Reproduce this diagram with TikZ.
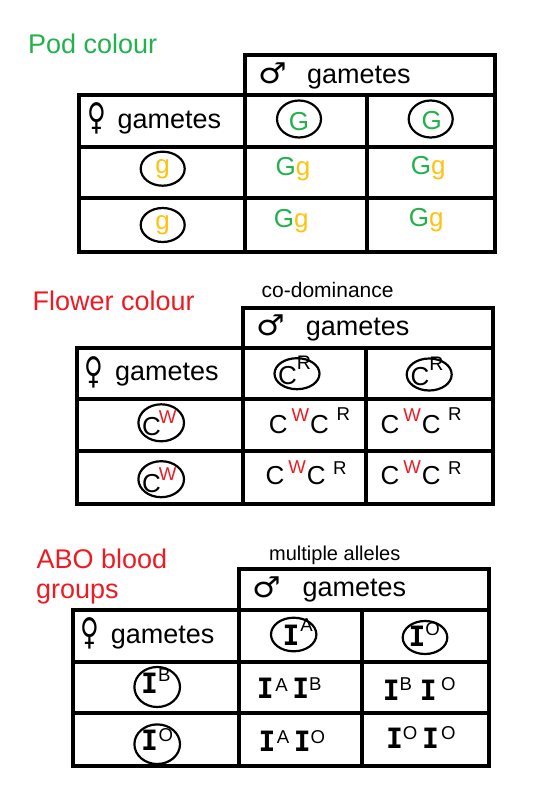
\documentclass[tikz,border=0pt]{standalone}
\usepackage{fontspec}
\usetikzlibrary{shapes.geometric}
\setmainfont{Liberation Sans}
\newfontfamily\symfam{DejaVu Sans}
\newfontfamily\ifam{DejaVu Sans Mono}
\definecolor{podgreen}{HTML}{22B14C}
\definecolor{podgold}{HTML}{FFC20E}
\definecolor{flred}{HTML}{ED1C24}
\newcommand{\up}[2]{\raisebox{#1}{\fontsize{18.6}{20}\selectfont #2}}
\newcommand{\Ib}{{\ifam\bfseries\fontsize{28}{30}\selectfont I}}
\newcommand{\Gg}{\textcolor{podgreen}{G}\textcolor{podgold}{g}}
\newcommand{\CWCR}[2]{C\hspace{4pt}\up{#1}{\color{flred}W}\hspace{1pt}C\hspace{7.5pt}\up{#2}{R}}
\newcommand{\malesym}{\scalebox{1.0}[0.9]{♂}}
\newcommand{\femsym}{\scalebox{0.8}[1.15]{♀}}
\begin{document}
\begin{tikzpicture}[x=1pt,y=-1pt,
  grid/.style={line width=3.2pt},
  oval/.style={draw, ellipse, line width=2.2pt, inner sep=0pt},
  big/.style={font=\fontsize{27}{32}\selectfont, inner sep=0pt, anchor=base west},
  small/.style={font=\fontsize{20}{24}\selectfont, inner sep=0pt, anchor=base west},
  sym/.style={font=\symfam\fontsize{32}{32}\selectfont, inner sep=0pt},
  gene/.style={font=\fontsize{26}{30}\selectfont, inner sep=0pt, anchor=base west}]
\fill[white] (0,0) rectangle (548,792);
\useasboundingbox (0,0) rectangle (548,792);

% ---------- Table 1: Pod colour ----------
\draw[grid] (245,55) rectangle (495,95);
\draw[grid] (79,95) rectangle (495,252);
\draw[grid] (79,147) -- (495,147) (79,198) -- (495,198)
            (245,95) -- (245,252) (367,95) -- (367,252);
\node[big, text=podgreen] (t1title) at (28,53) {Pod colour};
\node[sym] (t1male) at (272.5,73.5) {\malesym};
\node[big] (t1mg) at (307,83.3) {gametes};
\node[sym] (t1fem) at (97,118) {\femsym};
\node[big] (t1fg) at (117.3,128.3) {gametes};
\node[oval, minimum width=44pt, minimum height=37pt] (t1m1) at (299,119) {};
\node[oval, minimum width=44pt, minimum height=37pt] (t1m2) at (430.7,119) {};
\node[gene, anchor=base, text=podgreen] (t1m1t) at (299,130) {G};
\node[gene, anchor=base, text=podgreen] (t1m2t) at (431.7,129) {G};
\node[oval, minimum width=44pt, minimum height=34pt] (t1f1) at (162.7,168.7) {};
\node[oval, minimum width=44pt, minimum height=34pt] (t1f2) at (162.7,225) {};
\node[gene, anchor=base, text=podgold] (t1f1t) at (162.5,173.8) {g};
\node[gene, anchor=base, text=podgold] (t1f2t) at (162.5,229.4) {g};
\node[gene] (t1c11) at (275.4,175) {\Gg};
\node[gene] (t1c12) at (410.7,174.5) {\Gg};
\node[gene] (t1c21) at (273.7,227.7) {\Gg};
\node[gene] (t1c22) at (408.7,226) {\Gg};

% ---------- Table 2: Flower colour ----------
\draw[grid] (243,308) rectangle (493,348);
\draw[grid] (77,348) rectangle (493,504);
\draw[grid] (77,399) -- (493,399) (77,451) -- (493,451)
            (243,348) -- (243,504) (366,348) -- (366,504);
\node[big, text=flred] (t2title) at (32.5,310.7) {Flower colour};
\node[small, font=\fontsize{21}{24}\selectfont] (t2note) at (261.5,297.3) {co-dominance};
\node[sym] (t2male) at (271,325.7) {\malesym};
\node[big] (t2mg) at (305.7,335) {gametes};
\node[sym] (t2fem) at (94.2,372) {\femsym};
\node[big] (t2fg) at (115,380) {gametes};
\node[oval, minimum width=45pt, minimum height=31pt] (t2m1) at (297,373.7) {};
\node[oval, minimum width=45pt, minimum height=32pt] (t2m2) at (429.2,374.5) {};
\node[gene] (t2m1t) at (278,384) {C\raisebox{14.7pt}{\fontsize{19.6}{22}\selectfont R}};
\node[gene] (t2m2t) at (410.4,385) {C\raisebox{14.7pt}{\fontsize{19.6}{22}\selectfont R}};
\node[oval, minimum width=45.6pt, minimum height=37pt] (t2f1) at (161.2,422.8) {};
\node[oval, minimum width=45.6pt, minimum height=36pt] (t2f2) at (161.2,479.2) {};
\node[gene] (t2f1t) at (142,435) {C\hspace{-2pt}\up{11.7pt}{\color{flred}W}};
\node[gene] (t2f2t) at (142,492) {C\hspace{-2pt}\up{11.7pt}{\color{flred}W}};
\node[gene] (t2c11) at (268.7,433.3) {\CWCR{11.6pt}{13.3pt}};
\node[gene] (t2c12) at (380.4,433.3) {\CWCR{11.6pt}{13.3pt}};
\node[gene] (t2c21) at (265.4,484) {\CWCR{10.7pt}{10pt}};
\node[gene] (t2c22) at (380.4,484) {\CWCR{10.7pt}{10pt}};

% ---------- Table 3: ABO blood groups ----------
\draw[grid] (239,569) rectangle (489,610);
\draw[grid] (73,610) rectangle (489,766);
\draw[grid] (73,662) -- (489,662) (73,713) -- (489,713)
            (239,610) -- (239,766) (362,610) -- (362,766);
\node[big, text=flred] (t3title1) at (36.5,568.3) {ABO blood};
\node[big, text=flred] (t3title2) at (35.8,598.3) {groups};
\node[small] (t3note) at (269,560) {multiple alleles};
\node[sym] (t3male) at (266.7,587.3) {\malesym};
\node[big] (t3mg) at (302.3,596.7) {gametes};
\node[sym] (t3fem) at (90,633.3) {\femsym};
\node[big] (t3fg) at (110.7,643.3) {gametes};
\node[oval, minimum width=45.4pt, minimum height=33.6pt] (t3m1) at (293.7,634.5) {};
\node[oval, minimum width=44.6pt, minimum height=33pt] (t3m2) at (425,637.5) {};
\node[gene] (t3m1t) at (282.4,645) {\Ib\hspace{0.8pt}\up{13.3pt}{A}};
\node[gene] (t3m2t) at (408.3,646.7) {\Ib\up{11.7pt}{O}};
\node[oval, minimum width=45.6pt, minimum height=40pt] (t3f1) at (157.2,687) {};
\node[oval, minimum width=45.6pt, minimum height=39.6pt] (t3f2) at (157.2,744.2) {};
\node[gene] (t3f1t) at (140.8,693.3) {\Ib\hspace{0.3pt}\up{11.6pt}{B}};
\node[gene] (t3f2t) at (140.8,750) {\Ib\hspace{0.8pt}\up{8.3pt}{O}};
\node[gene] (t3c11) at (256.6,698.3) {\Ib\hspace{1.6pt}\up{6.6pt}{A}\hspace{4.7pt}\Ib\up{8.3pt}{B}};
\node[gene] (t3c12) at (382.6,700) {\Ib\up{10pt}{B}\hspace{7.8pt}\Ib\hspace{4.4pt}\up{10pt}{O}};
\node[gene] (t3c21) at (258.3,751.7) {\Ib\hspace{1.6pt}\up{8.4pt}{A}\hspace{4.5pt}\Ib\up{8.4pt}{O}};
\node[gene] (t3c22) at (385.8,748.3) {\Ib\up{9.3pt}{O}\hspace{4.8pt}\Ib\hspace{2.1pt}\up{9.3pt}{O}};
\end{tikzpicture}
\end{document}
